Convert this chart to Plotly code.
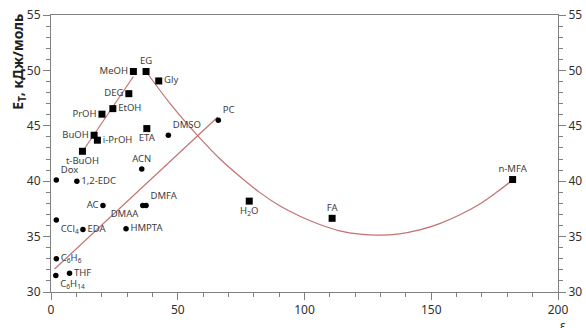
import plotly.graph_objects as go

# Solvents: dielectric constant (eps) and E_T polarity (kJ/mol)
names = ["MeOH", "EG", "Gly", "DEG", "EtOH", "PrOH", "BuOH", "i-PrOH", "t-BuOH", "ETA",
         "DMSO", "PC", "ACN", "Dox", "1,2-EDC", "AC", "DMFA", "DMAA", "CCl<sub>4</sub>",
         "EDA", "HMPTA", "C<sub>6</sub>H<sub>6</sub>", "THF", "C<sub>6</sub>H<sub>14</sub>",
         "H<sub>2</sub>O", "FA", "n-MFA"]
eps = [32.5, 37.5, 42.5, 30.7, 24.4, 20.1, 17.0, 18.3, 12.4, 37.8,
       46.3, 66.0, 35.8, 2.1, 10.2, 20.5, 37.5, 36.2, 2.1,
       12.6, 29.6, 2.1, 7.3, 1.9,
       78.2, 110.9, 182.1]
et = [49.9, 49.9, 49.05, 47.9, 46.55, 46.05, 44.15, 43.7, 42.7, 44.75,
      44.15, 45.5, 41.1, 40.1, 40.0, 37.8, 37.8, 37.8, 36.5,
      35.65, 35.7, 33.0, 31.7, 31.5,
      38.2, 36.65, 40.15]
kind = ["s"] * 10 + ["o"] * 14 + ["s"] * 3

# Trend lines
alc_x = [11.9, 32.5]
alc_y = [42.5, 49.45]
apr_x = [1.4, 65.8]
apr_y = [32.07, 45.8]
curve_x = [37.5, 47.0, 57.5, 66.7, 74.5, 82.4, 90.2, 98.2, 106.0, 113.9, 121.8,
           129.6, 137.5, 145.4, 153.3, 161.1, 169.0, 175.6, 182.1]
curve_y = [49.9, 47.0, 44.2, 42.0, 40.42, 38.97, 37.78, 36.83, 36.09, 35.52, 35.22,
           35.13, 35.25, 35.6, 36.17, 36.95, 37.93, 38.97, 40.1]

label_pos = {
    "MeOH": "middle left", "EG": "top center", "Gly": "middle right", "DEG": "middle left",
    "EtOH": "middle right", "PrOH": "middle left", "BuOH": "middle left",
    "i-PrOH": "middle right", "t-BuOH": "bottom center", "ETA": "bottom center",
    "DMSO": "top right", "PC": "top right", "ACN": "top center", "Dox": "top right",
    "1,2-EDC": "middle right", "AC": "middle left", "DMFA": "top right",
    "DMAA": "bottom left", "CCl<sub>4</sub>": "bottom right", "EDA": "middle right",
    "HMPTA": "middle right", "C<sub>6</sub>H<sub>6</sub>": "middle right", "THF": "middle right",
    "C<sub>6</sub>H<sub>14</sub>": "bottom right", "H<sub>2</sub>O": "bottom center",
    "FA": "top center", "n-MFA": "top center",
}

LINE = "#c27272"
TXT = "#404040"
FONT = "Noto Sans"

fig = go.Figure()
for xs, ys, shp in [(alc_x, alc_y, "linear"), (apr_x, apr_y, "linear"), (curve_x, curve_y, "spline")]:
    fig.add_trace(go.Scatter(x=xs, y=ys, mode="lines",
                             line=dict(color=LINE, width=1.2, shape=shp, smoothing=1.0),
                             hoverinfo="skip", showlegend=False))

for k, sym, size in [("s", "square", 7), ("o", "circle", 5.5)]:
    idx = [i for i, v in enumerate(kind) if v == k]
    fig.add_trace(go.Scatter(
        x=[eps[i] for i in idx], y=[et[i] for i in idx],
        mode="markers+text",
        marker=dict(symbol=sym, size=size, color="black"),
        text=[names[i] for i in idx],
        textposition=[label_pos[names[i]] for i in idx],
        textfont=dict(family=FONT, size=9.5, color=TXT),
        showlegend=False,
    ))

# invisible trace so the right-hand axis is drawn
fig.add_trace(go.Scatter(x=[0], y=[30], yaxis="y2", mode="markers",
                         marker=dict(opacity=0), hoverinfo="skip", showlegend=False))

axis_common = dict(showline=True, linecolor="#808080", linewidth=1, showgrid=False, zeroline=False,
                   ticks="outside", ticklen=7, tickcolor="#808080", automargin=False,
                   tickfont=dict(family=FONT, size=12, color="#303030"))
minor_common = dict(ticks="outside", ticklen=4, tickcolor="#808080")

fig.update_layout(
    width=586, height=328,
    margin=dict(l=51, r=28, t=15, b=36),
    paper_bgcolor="white", plot_bgcolor="white",
    xaxis=dict(range=[0, 200], dtick=50, mirror=True, minor=dict(dtick=10, **minor_common),
               **axis_common),
    yaxis=dict(range=[30, 55], dtick=5, minor=dict(dtick=1, **minor_common), **axis_common),
    yaxis2=dict(range=[30, 55], dtick=5, overlaying="y", side="right",
                minor=dict(dtick=1, **minor_common), **axis_common),
    annotations=[
        dict(text="<b>E<sub>T</sub>, кДж/моль</b>", xref="paper", yref="paper",
             x=-0.064, y=0.83, textangle=-90, showarrow=False,
             xanchor="center", yanchor="middle",
             font=dict(family=FONT, size=14, color="#202020")),
        dict(text="ε", xref="paper", yref="paper", x=1.01, y=-0.12, showarrow=False,
             xanchor="center", yanchor="middle",
             font=dict(family=FONT, size=12, color="#303030")),
    ],
)

fig.write_html("out.html")
